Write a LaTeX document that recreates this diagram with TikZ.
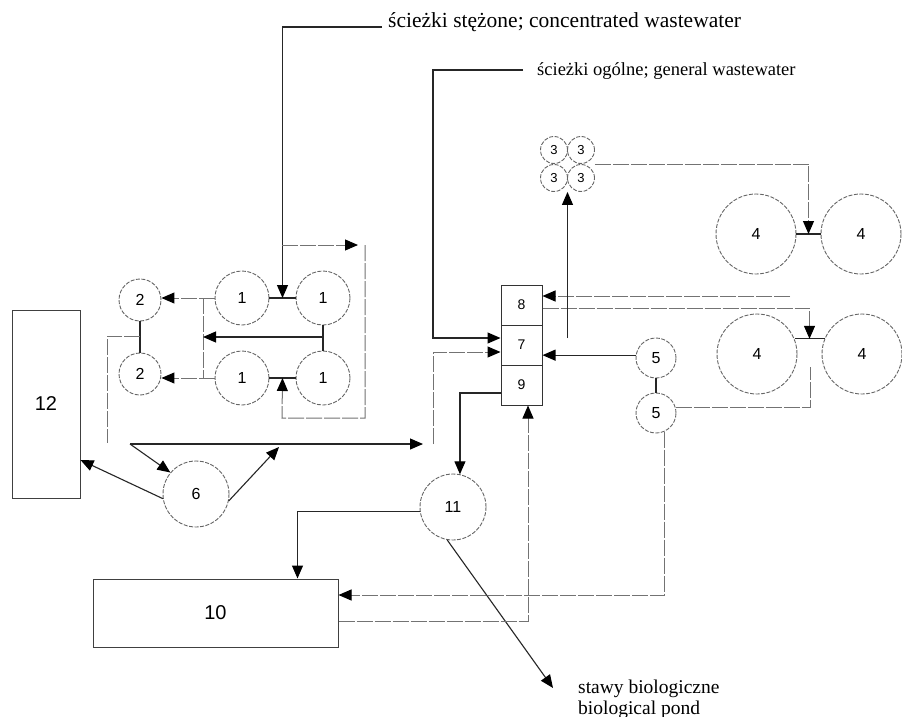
\documentclass[tikz,border=0pt]{standalone}
\usepackage{fontspec}
\setmainfont{Liberation Serif}
\setsansfont{Liberation Sans}
\usetikzlibrary{arrows.meta,calc}
\begin{document}
\begin{tikzpicture}[x=1pt,y=-1pt,
  ln/.style={line width=1.1pt, draw=black!85},
  fl/.style={line width=1pt, draw=black!55, dash pattern=on 16pt off 2pt},
  arr/.style={-{Triangle[length=13pt,width=11pt,color=black]}},
  tank/.style={circle, draw=black!60, line width=0.9pt, dash pattern=on 4pt off 1.5pt, inner sep=0pt, font=\sffamily\fontsize{16}{16}\selectfont},
  box/.style={rectangle, draw=black!75, line width=1pt, inner sep=0pt, font=\sffamily\fontsize{20}{20}\selectfont},
  cell/.style={rectangle, draw=black!80, line width=1pt, inner sep=0pt, minimum width=41pt, minimum height=40pt, font=\sffamily\fontsize{14}{14}\selectfont},
  lbl/.style={anchor=base west, inner sep=0pt}
]
\useasboundingbox (0,0) rectangle (902,717);
\fill[white] (0,0) rectangle (902,717);

% tanks 1
\node[tank, minimum size=54pt] (c1a) at (242,298) {1};
\node[tank, minimum size=54pt] (c1b) at (323,298) {1};
\node[tank, minimum size=54pt] (c1c) at (242,378) {1};
\node[tank, minimum size=54pt] (c1d) at (323,378) {1};
% tanks 2
\node[tank, minimum size=42pt] (c2a) at (140,300) {2};
\node[tank, minimum size=42pt] (c2b) at (140,374) {2};
% tanks 3
\node[tank, minimum size=27pt, font=\sffamily\fontsize{13}{13}\selectfont] (c3a) at (554,150) {3};
\node[tank, minimum size=27pt, font=\sffamily\fontsize{13}{13}\selectfont] (c3b) at (581,150) {3};
\node[tank, minimum size=27pt, font=\sffamily\fontsize{13}{13}\selectfont] (c3c) at (554,178) {3};
\node[tank, minimum size=27pt, font=\sffamily\fontsize{13}{13}\selectfont] (c3d) at (581,178) {3};
% tanks 4
\node[tank, minimum size=80pt] (c4a) at (756,234) {4};
\node[tank, minimum size=80pt] (c4b) at (861,234) {4};
\node[tank, minimum size=80pt] (c4c) at (757,354) {4};
\node[tank, minimum size=80pt] (c4d) at (862,354) {4};
% tanks 5
\node[tank, minimum size=40pt] (c5a) at (656,358) {5};
\node[tank, minimum size=40pt] (c5b) at (656,413) {5};
% tanks 6, 11
\node[tank, minimum size=66pt] (c6) at (196,494) {6};
\node[tank, minimum size=66pt] (c11) at (453,507) {11};
% boxes
\node[box, minimum width=68pt, minimum height=188pt] (b12) at (46,404) {12};
\node[box, minimum width=245pt, minimum height=68pt] (b10) at (215.5,613) {10};
\node[cell] (b8) at (521.5,305) {8};
\node[cell] (b7) at (521.5,345) {7};
\node[cell] (b9) at (521.5,385) {9};

% texts
\node[lbl, font=\fontsize{21.5}{24}\selectfont] (tconc) at (388,28) {ścieżki stężone; concentrated wastewater};
\node[lbl, font=\fontsize{18.5}{22}\selectfont] (tgen) at (537,76) {ścieżki ogólne; general wastewater};
\node[lbl, font=\fontsize{19.5}{22}\selectfont] (tp1) at (578,693) {stawy biologiczne};
\node[lbl, font=\fontsize{19.5}{22}\selectfont] (tp2) at (578,714) {biological pond};

% coordinates
\coordinate (j1) at ($(c1a.east)!0.5!(c1b.west)$);
\coordinate (j2) at ($(c1c.east)!0.5!(c1d.west)$);
\coordinate (cin) at (382,27);
\coordinate (br1) at (282,245);
\coordinate (br2) at (358,245);
\coordinate (lp1) at (365,245);
\coordinate (lp2) at (282,418);
\coordinate (v2t) at (203,298);
\coordinate (v2b) at (203,378);
\coordinate (m1) at (323,337);
\coordinate (m2) at (140,336);
\coordinate (l12) at (107,443);
\coordinate (h1) at (130,444);
\coordinate (h2) at (423,444);
\coordinate (h3) at (433,444);
\coordinate (gin) at (523,70);
\coordinate (gc) at (433,70);
\coordinate (t6) at (279,447);
\coordinate (pond) at (553,688);
\coordinate (j3) at ($(c3c.south)!0.5!(c3d.south)$);
\coordinate (v3) at (568,338);
\coordinate (j4t) at ($(c4a.east)!0.5!(c4b.west)$);
\coordinate (j4b) at ($(c4c.22)!0.5!(c4d.158)$);
\coordinate (j4c) at (810,367);
\coordinate (u8) at (790,296);

% concentrated wastewater
\draw[ln] (c1a.east) -- (c1b.west);
\draw[ln] (c1c.east) -- (c1d.west);
\draw[ln,arr] (cin) -| (j1);
\draw[fl,arr] (br1) -- (br2);
\draw[fl,arr] (lp1) |- (lp2) -- (j2);
\draw[fl,arr] (c1a.west) -- (c1a.west -| c2a.east);
\draw[fl,arr] (c1c.west) -- (c1c.west -| c2b.east);
\draw[fl] (v2t) -- (v2b);
\draw[ln] (c1b) -- (c1d);
\draw[ln,arr] (m1) -- (m1 -| v2t);
\draw[ln] (c2a) -- (c2b);
\draw[fl] (m2) -| (l12);
\draw[ln,arr] (h1) -- (h2);
\draw[fl,arr] (h3) |- ($(b7.west)+(0,7)$);
% general wastewater
\draw[ln,arr] (gin) -- (gc) |- ($(b7.west)+(0,-7)$);
% tank 6
\draw[ln,arr] (h1) -- (c6.140);
\draw[ln,arr] (c6.188) -- ($(b12.east)+(0,56)$);
\draw[ln,arr] (c6.-12) -- (t6);
% box 9 to 11
\draw[ln,arr] ($(b9.west)+(0,8)$) -| (c11.78);
\draw[ln,arr] (c11.188) -| ($(b10.north)+(82,0)$);
\draw[ln,arr] (c11.-100) -- (pond);
% box 10 loops
\draw[fl,arr] ($(b10.east)+(0,8)$) -| ($(b9.south)+(6.5,0)$);
\draw[fl,arr] (c5b.-66) |- ($(b10.east)+(0,-18)$);
% tanks 5
\draw[ln,arr] (c5a.172) -- (c5a.172 -| b7.east);
\draw[ln] (c5a) -- (c5b);
\draw[fl] (c5b.15) -| (j4c);
% tanks 4 and 3
\draw[ln] (c4a) -- (c4b);
\draw[ln] (c4c.22) -- (c4d.158);
\draw[fl,arr] ($(b8.east)+(0,3)$) -| (j4b);
\draw[fl,arr] (u8) -- (u8 -| b8.east);
\draw[ln,arr] (j3 |- v3) -- (j3);
\draw[fl,arr] ($(c3b.east)!0.5!(c3d.east)$) -| (j4t);
\end{tikzpicture}
\end{document}
